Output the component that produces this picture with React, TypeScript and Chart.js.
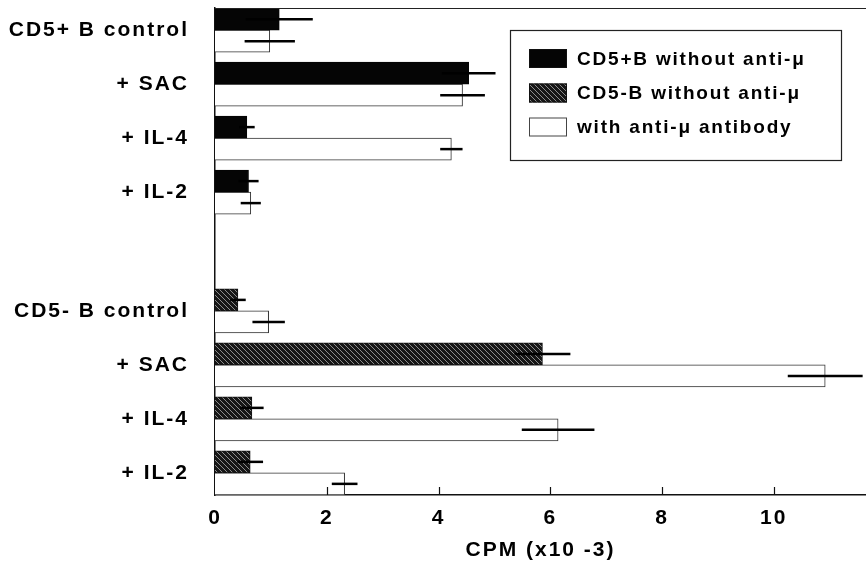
import React, { useEffect, useRef } from 'react';
import { Chart, registerables } from 'chart.js';

Chart.register(...registerables);

// ---- data ----
const categories = ['CD5+ B control', '+ SAC', '+ IL-4', '+ IL-2', 'CD5- B control', '+ SAC', '+ IL-4', '+ IL-2'];
// row index of each category on the category axis (gap between the two cell populations)
const rowIndex = [0, 1, 2, 3, 5.2, 6.2, 7.2, 8.2];

const cd5PosWithout = [1.15, 4.54, 0.57, 0.6];
const cd5PosWithoutErr = [0.6, 0.48, 0.14, 0.18];
const cd5NegWithout = [0.41, 5.86, 0.66, 0.63];
const cd5NegWithoutErr = [0.14, 0.5, 0.21, 0.23];
const withAntiMu = [0.98, 4.43, 4.23, 0.64, 0.96, 10.92, 6.14, 2.32];
const withAntiMuErr = [0.45, 0.4, 0.2, 0.18, 0.29, 0.67, 0.65, 0.23];

const xTicks = [0, 2, 4, 6, 8, 10];
const seriesLabels = ['CD5+B without anti-μ', 'CD5-B without anti-μ', 'with anti-μ antibody'];
const xTitle = 'CPM (x10 -3)';

const FONT = "'Liberation Sans', Arial, Helvetica, sans-serif";

function makeHatch(): CanvasPattern | string {
  const c = document.createElement('canvas');
  c.width = 5;
  c.height = 5;
  const g = c.getContext('2d');
  if (!g) return '#333';
  g.fillStyle = '#161616';
  g.fillRect(0, 0, 5, 5);
  g.strokeStyle = '#8c8c8c';
  g.lineWidth = 1;
  g.beginPath();
  g.moveTo(-1, -1);
  g.lineTo(6, 6);
  g.moveTo(-6, -1);
  g.lineTo(1, 6);
  g.moveTo(4, -1);
  g.lineTo(11, 6);
  g.stroke();
  const p = g.createPattern(c, 'repeat');
  return p || '#333';
}

const spacingPlugin = {
  id: 'spacing',
  beforeUpdate(chart: any) {
    (chart.ctx as any).letterSpacing = '2px';
  },
  beforeLayout(chart: any) {
    (chart.ctx as any).letterSpacing = '2px';
  },
  beforeDraw(chart: any) {
    (chart.ctx as any).letterSpacing = '2px';
  },
};

const errorBarPlugin = {
  id: 'errorBars',
  afterDatasetsDraw(chart: any) {
    const ctx = chart.ctx;
    const xs = chart.scales.x;
    chart.data.datasets.forEach((ds: any, di: number) => {
      const meta = chart.getDatasetMeta(di);
      meta.data.forEach((el: any, i: number) => {
        const v = ds.data[i].x;
        const e = ds.errors[i];
        ctx.save();
        ctx.strokeStyle = '#000';
        ctx.lineWidth = 2.5;
        ctx.beginPath();
        ctx.moveTo(xs.getPixelForValue(v - e), el.y);
        ctx.lineTo(xs.getPixelForValue(v + e), el.y);
        ctx.stroke();
        ctx.restore();
      });
    });
  },
};

const framePlugin = {
  id: 'frame',
  afterDraw(chart: any) {
    const ctx = chart.ctx;
    const area = chart.chartArea;
    const xs = chart.scales.x;
    ctx.save();
    // top frame line
    ctx.strokeStyle = '#222';
    ctx.lineWidth = 1.2;
    ctx.beginPath();
    ctx.moveTo(area.left, area.top + 0.5);
    ctx.lineTo(area.right, area.top + 0.5);
    ctx.stroke();
    // inner tick marks on the x axis
    ctx.lineWidth = 1.2;
    ctx.strokeStyle = '#111';
    xTicks.forEach((t) => {
      if (t === 0) return;
      const px = Math.round(xs.getPixelForValue(t)) + 0.5;
      ctx.beginPath();
      ctx.moveTo(px, area.bottom);
      ctx.lineTo(px, area.bottom - 8);
      ctx.stroke();
    });

    // legend
    const bx = 510.5, by = 30.5, bw = 331, bh = 130;
    ctx.strokeStyle = '#222';
    ctx.lineWidth = 1.2;
    ctx.strokeRect(bx, by, bw, bh);
    const rows = [58.5, 93, 127];
    chart.data.datasets.forEach((ds: any, i: number) => {
      const cy = rows[i];
      ctx.fillStyle = ds.backgroundColor;
      ctx.fillRect(529, cy - 9.5, 38, 19);
      ctx.strokeStyle = i === 2 ? '#444' : '#111';
      ctx.lineWidth = 1;
      ctx.strokeRect(529.5, cy - 9, 37, 18);
      (ctx as any).letterSpacing = '1.8px';
      ctx.fillStyle = '#000';
      ctx.font = `bold 19px ${FONT}`;
      ctx.textAlign = 'left';
      ctx.textBaseline = 'middle';
      ctx.fillText(ds.label, 577, cy + 1);
    });
    ctx.restore();
  },
};

export default function App() {
  const ref = useRef<HTMLCanvasElement | null>(null);

  useEffect(() => {
    const canvas = ref.current;
    if (!canvas) return;
    const hatch = makeHatch();

    const chart = new Chart(canvas, {
      type: 'bar',
      data: {
        datasets: [
          {
            label: seriesLabels[0],
            data: cd5PosWithout.map((v, i) => ({ x: v, y: rowIndex[i] })),
            errors: cd5PosWithoutErr,
            stack: 'without',
            backgroundColor: '#050505',
            borderColor: '#050505',
            borderWidth: 1,
          } as any,
          {
            label: seriesLabels[1],
            data: cd5NegWithout.map((v, i) => ({ x: v, y: rowIndex[i + 4] })),
            errors: cd5NegWithoutErr,
            stack: 'without',
            backgroundColor: hatch,
            borderColor: '#111',
            borderWidth: 1,
          } as any,
          {
            label: seriesLabels[2],
            data: withAntiMu.map((v, i) => ({ x: v, y: rowIndex[i] })),
            errors: withAntiMuErr,
            stack: 'with',
            backgroundColor: '#ffffff',
            borderColor: '#333',
            borderWidth: 1,
          } as any,
        ],
      },
      options: {
        indexAxis: 'y',
        responsive: false,
        animation: false,
        barThickness: 22,
        layout: { padding: { top: 8, right: 0, left: 0, bottom: 0 } },
        plugins: {
          legend: { display: false },
          tooltip: { enabled: false },
        },
        scales: {
          y: {
            type: 'linear',
            reverse: true,
            offset: false,
            min: -0.41,
            max: 8.61,
            afterBuildTicks: (scale: any) => {
              scale.ticks = rowIndex.map((v) => ({ value: v }));
            },
            afterFit: (scale: any) => {
              scale.width = 215;
              scale.paddingTop = 0;
              scale.paddingBottom = 0;
            },
            grid: { display: false, drawTicks: false, offset: false },
            border: { display: true, color: '#111', width: 1.5 },
            ticks: {
              autoSkip: false,
              padding: 26,
              color: '#000',
              font: { family: FONT, size: 21, weight: 'bold' },
              callback: (value: any) => {
                const idx = rowIndex.findIndex((r) => Math.abs(r - value) < 1e-6);
                return idx >= 0 ? categories[idx] : '';
              },
            },
          },
          x: {
            type: 'linear',
            position: 'bottom',
            min: 0,
            max: 11.65,
            afterBuildTicks: (scale: any) => {
              scale.ticks = xTicks.map((v) => ({ value: v }));
            },
            afterFit: (scale: any) => {
              scale.height = 69;
              scale.paddingLeft = 0;
              scale.paddingRight = 0;
            },
            grid: { display: false, drawTicks: false },
            border: { display: true, color: '#111', width: 1.5 },
            ticks: {
              autoSkip: false,
              padding: 11,
              color: '#000',
              maxRotation: 0,
              font: { family: FONT, size: 21, weight: 'bold' },
            },
            title: {
              display: true,
              text: xTitle,
              color: '#000',
              padding: { top: 0, bottom: 1 },
              font: { family: FONT, size: 21, weight: 'bold' },
            },
          },
        },
      } as any,
      plugins: [spacingPlugin, errorBarPlugin, framePlugin],
    });

    return () => chart.destroy();
  }, []);

  return (
    <div style={{ position: 'fixed', left: 0, top: 0, width: 866, height: 564, background: '#fff' }}>
      <canvas ref={ref} width={866} height={564} style={{ display: 'block' }} />
    </div>
  );
}
